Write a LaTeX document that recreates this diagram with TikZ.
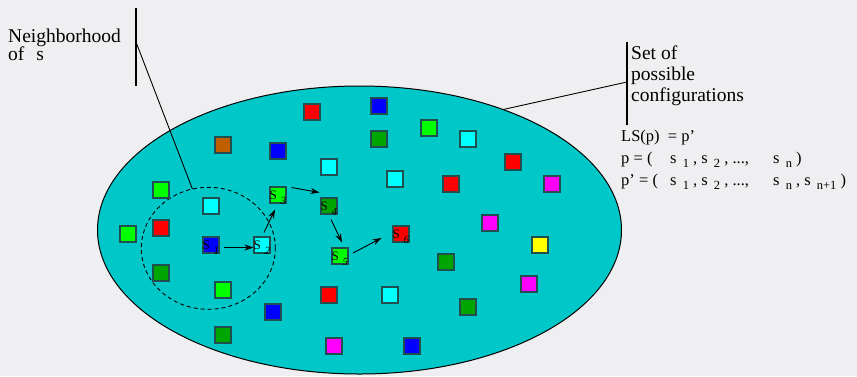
\documentclass[tikz,border=0pt]{standalone}
\usepackage{fontspec}
\setmainfont{Liberation Serif}
\usetikzlibrary{shapes.geometric,arrows.meta}
\definecolor{bgc}{HTML}{EFEFF1}
\definecolor{setfill}{HTML}{00C8C8}
\definecolor{sqline}{HTML}{1F4F4F}
\definecolor{cR}{HTML}{FF0000}
\definecolor{cB}{HTML}{0000FF}
\definecolor{cG}{HTML}{00FF00}
\definecolor{cD}{HTML}{00A600}
\definecolor{cC}{HTML}{00FFFF}
\definecolor{cO}{HTML}{BF5F00}
\definecolor{cM}{HTML}{FF00FF}
\definecolor{cY}{HTML}{FFFF00}
\newcommand{\lowsub}[1]{\hspace{2pt}\raisebox{-4.5pt}{\fontsize{12.5}{12.5}\selectfont #1}}
\begin{document}
\begin{tikzpicture}[x=1pt,y=-1pt,
  sq/.style={draw=sqline, line width=1.1pt, minimum size=16pt, inner sep=0pt, outer sep=0pt},
  slab/.style={font=\fontsize{13}{13}\selectfont, inner sep=0pt, anchor=base west, text=black},
  ssub/.style={font=\fontsize{11}{11}\selectfont\itshape, inner sep=0pt, anchor=base west, text=black},
  arr/.style={-{Stealth[length=9pt,width=6pt]}, line width=0.9pt},
  lbl/.style={font=\fontsize{19.5}{19.5}\selectfont, inner sep=0pt, anchor=base west},
  eq/.style={font=\fontsize{16.5}{16.5}\selectfont, inner sep=0pt, anchor=base west},
  bar/.style={line width=1.2pt}]
\fill[bgc] (0,0) rectangle (857,376);
\useasboundingbox (0,0) rectangle (857,376);

% set of configurations
\node[ellipse, draw=black, line width=1pt, fill=setfill, minimum width=524pt, minimum height=288pt, inner sep=0pt, outer sep=0pt] (set) at (359.5,230) {};

% neighborhood
\node[ellipse, draw=black, line width=0.9pt, dash pattern=on 4pt off 3pt, minimum width=134pt, minimum height=122pt, inner sep=0pt, outer sep=0pt] (nb) at (208.3,248.3) {};

% squares
\foreach \n/\x/\y/\c in {
 1/312/112/cR, 2/379/106/cB, 3/223/145/cO, 4/278/151/cB, 5/379/139/cD,
 6/429/128/cG, 7/468/139/cC, 8/329/167/cC, 9/395/179/cC, 10/513/162/cR,
 11/451/184/cR, 12/552/184/cM, 13/161/190/cG, 14/211/206/cC, 17/490/223/cM,
 18/128/234/cG, 19/161/228/cR, 23/540/245/cY, 25/446/262/cD, 26/161/273/cD,
 27/529/284/cM, 28/223/290/cG, 29/329/295/cR, 30/390/295/cC, 31/273/312/cB,
 32/468/307/cD, 33/223/335/cD, 34/334/346/cM, 35/412/346/cB}
 {\node[sq, fill=\c] (q\n) at (\x,\y) {};}

\node[sq, fill=cB] (s1) at (211,245) {};
\node[sq, fill=cC] (s2) at (262,245) {};
\node[sq, fill=cG] (s3) at (278,195) {};
\node[sq, fill=cD] (s4) at (329,206) {};
\node[sq, fill=cG] (s5) at (340,256) {};
\node[sq, fill=cR] (s6) at (401,234) {};

\foreach \k in {1,...,6}{
  \node[slab] (s\k l) at ([shift={(-8.5,4)}]s\k.center) {S};
  \node[ssub] (s\k n) at ([shift={(2.5,9)}]s\k.center) {\k};
}

% path of the local search
\draw[arr] ([shift={(5,2.5)}]s1.east) -- ([shift={(-0.5,2.5)}]s2.west);
\draw[arr] ([shift={(2,-4.5)}]s2.north) -- ([shift={(-3,6.5)}]s3.south);
\draw[arr] ([shift={(5.5,0.5)}]s3.north east) -- ([shift={(-1.5,-5.5)}]s4.north west);
\draw[arr] ([shift={(2,5.5)}]s4.south) -- ([shift={(2,-5.5)}]s5.north);
\draw[arr] ([shift={(5,-3)}]s5.east) -- ([shift={(-11.5,4)}]s6.west);

% label: neighborhood
\coordinate (lbtop) at (136,8);
\coordinate (lbbot) at (136,86);
\coordinate (lbmid) at (136,42);
\draw[bar] (lbtop) -- (lbbot);
\draw[line width=0.9pt] (lbmid) -- (nb.105);
\node[lbl] (nbh1) at (8,42) {Neighborhood};
\node[lbl] (nbh2) at (8,60.5) {of\hspace{12pt}s};

% label: set of possible configurations
\coordinate (rbtop) at (627,42);
\coordinate (rbbot) at (627,125);
\coordinate (rbmid) at (627,82);
\draw[bar] (rbtop) -- (rbbot);
\draw[line width=0.9pt] (rbmid) -- (set.40.7);
\node[lbl] (set1) at (631,59) {Set of};
\node[lbl] (set2) at (631,80) {possible};
\node[lbl] (set3) at (631,101) {configurations};

% equations
\node[eq] (e1) at (621,141) {LS(p)\ \ = p’};
\node[eq] (e2a) at (621,163) {p = (};
\node[eq] (e2b) at (670,163) {s \lowsub{1} , s \lowsub{2} , ...,};
\node[eq] (e2c) at (773,163) {s \lowsub{n}\ )};
\node[eq] (e3a) at (621,185) {p’ = (};
\node[eq] (e3b) at (670,185) {s \lowsub{1} , s \lowsub{2} , ...,};
\node[eq] (e3c) at (773,185) {s \lowsub{n}\ , s \lowsub{n+1}\ )};
\end{tikzpicture}
\end{document}
